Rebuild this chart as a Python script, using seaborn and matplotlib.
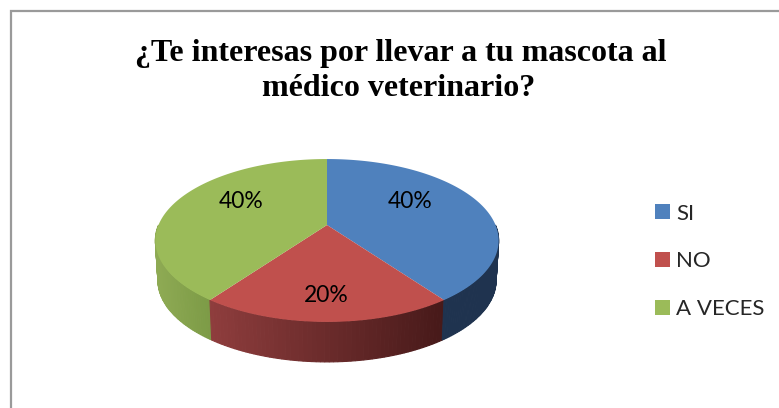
import numpy as np
import matplotlib
matplotlib.use("Agg")
import matplotlib.pyplot as plt
from matplotlib.patches import Patch
import seaborn as sns

categories = ["SI", "NO", "A VECES"]
values = [40, 20, 40]
title_lines = ["¿Te interesas por llevar a tu mascota al", "médico veterinario?"]
top_colors = ["#4F81BD", "#C0504D", "#9BBB59"]
side_left = [(0.12, 0.20, 0.31), (0.56, 0.24, 0.24), (0.56, 0.67, 0.33)]
side_right = [(0.12, 0.20, 0.31), (0.28, 0.10, 0.10), (0.48, 0.60, 0.27)]

sns.set_theme(style="white", palette=top_colors)
W, H = 779, 408
fig = plt.figure(figsize=(W / 100, H / 100), dpi=100, facecolor="white")
ax = fig.add_axes([0, 0, 1, 1])
ax.set_xlim(0, W)
ax.set_ylim(H, 0)
ax.axis("off")

CX, CY, A, B, K, DEPTH = 327, 225, 168.5, 78.5, 0.19, 40


def project(ang, scale=1.0, dy=0.0):
    u, v = np.sin(ang), -np.cos(ang)
    d = 1 - K * v
    return CX + scale * A * u / d, CY + B * v / d + dy


fracs = np.array(values) / np.sum(values)
edges = np.concatenate([[0], np.cumsum(fracs)]) * 2 * np.pi

# side walls (front half only), as thin gradient strips painted left to right
for i in (2, 1, 0):
    lo, hi = max(edges[i], np.pi / 2), min(edges[i + 1], 3 * np.pi / 2)
    if hi <= lo:
        continue
    grid = np.linspace(lo, hi, 60)
    if i == 2:
        grid = grid[::-1]
    for a0, a1 in zip(grid[:-1], grid[1:]):
        x0, y0 = project(a0)
        x1, y1 = project(a1)
        x2, y2 = project(a1, 0.985, DEPTH)
        x3, y3 = project(a0, 0.985, DEPTH)
        if i == 2:
            t = np.clip((x0 - 155) / 60, 0, 1)
        elif i == 1:
            t = np.clip((x0 - 210) / 234, 0, 1)
        else:
            t = 0.0
        c = (1 - t) * np.array(side_left[i]) + t * np.array(side_right[i])
        ax.fill([x0, x1, x2, x3], [y0, y1, y2, y3], facecolor=c, edgecolor=c,
                lw=0.8, zorder=2)

# top faces
for i in range(len(values)):
    grid = np.linspace(edges[i], edges[i + 1], 200)
    xs, ys = project(grid)
    ax.fill(np.r_[CX, xs], np.r_[CY, ys], color=top_colors[i], lw=0, zorder=3)

# percentage labels
label_pos = [(410, 201), (326, 295), (241, 201)]
for val, (lx, ly) in zip(values, label_pos):
    ax.text(lx, ly, f"{val}%", ha="center", va="center", family="Lato",
            fontsize=16.5, color="black", zorder=4)

# title
for line, tx, ty in zip(title_lines, (401, 399), (54, 88)):
    ax.text(tx, ty, line, ha="center", va="center", family="Liberation Serif",
            weight="bold", fontsize=23, color="black")

# frame
ax.plot([11.5, 11.5, W + 2], [H + 2, 10.5, 10.5], color="#9a9a9a", lw=1.6,
        clip_on=False, zorder=1, solid_joinstyle="miter")

handles = [Patch(facecolor=c, edgecolor="none", label=n) for c, n in zip(top_colors, categories)]
leg = ax.legend(handles=handles, loc="upper left", bbox_to_anchor=(655 / W, 1 - 203.5 / H),
                frameon=False, prop={"family": "Lato", "size": 16}, labelspacing=1.255,
                handlelength=0.68, handleheight=0.68, handletextpad=0.28, borderpad=0, borderaxespad=0)

fig.savefig("out.png", dpi=100, facecolor="white")
